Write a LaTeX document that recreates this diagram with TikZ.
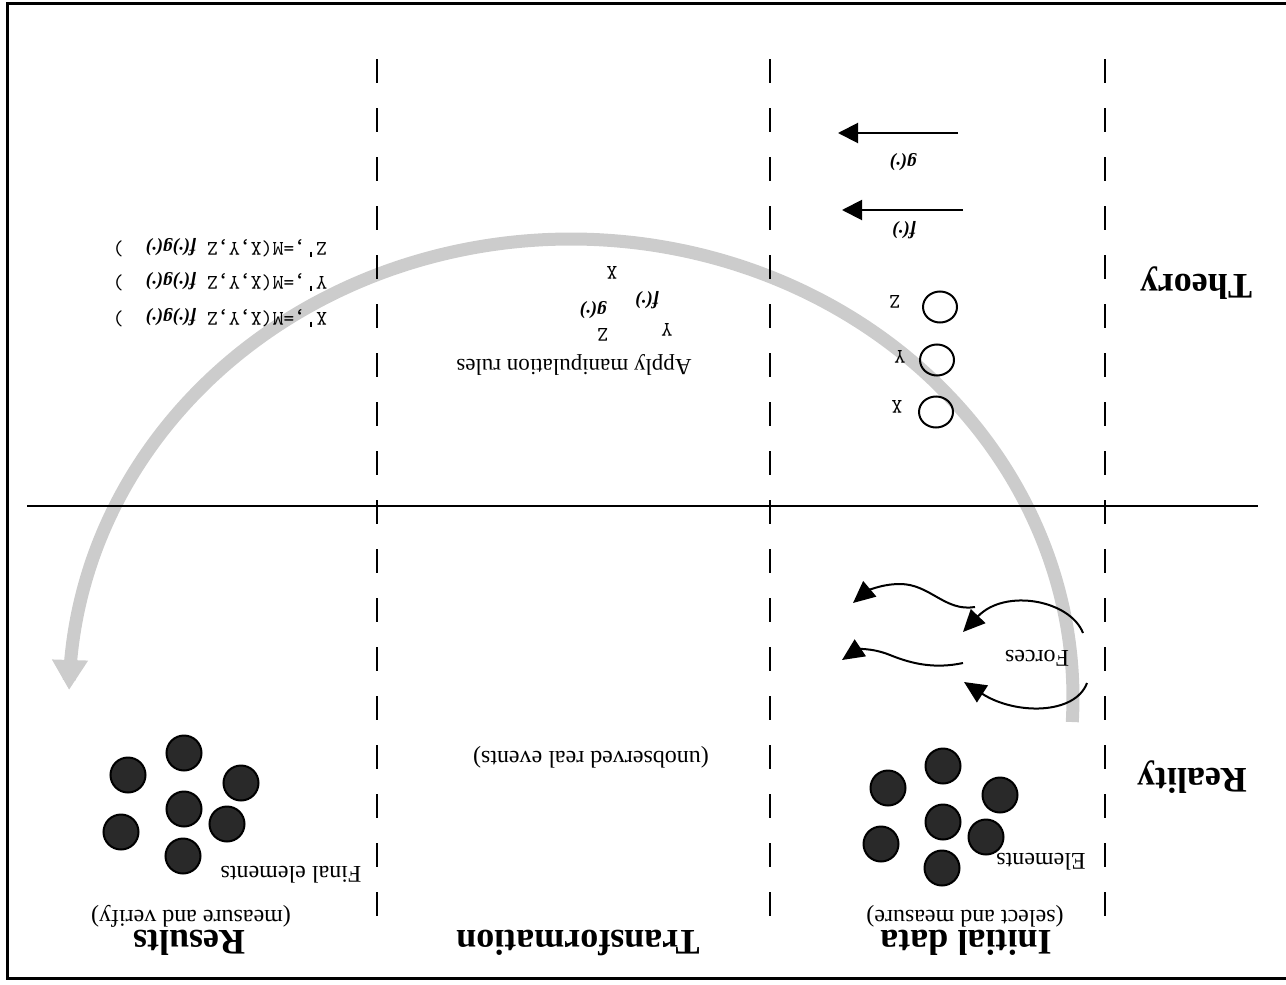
\documentclass[tikz,border=0pt]{standalone}
\usepackage{fontspec}
\setmainfont{Liberation Serif}
\font\eqmono="[lmmono10-regular]" at 10.4pt
\newcommand\apostick{\makebox[0.525em]{\rule[0.42em]{0.07em}{0.24em}}}
\usetikzlibrary{arrows.meta,shapes.geometric}
\begin{document}
\begin{tikzpicture}[x=0.5pt,y=-0.5pt,
  lbl/.style={rotate=180, inner sep=0pt, font=\fontsize{12}{14}\selectfont},
  apply/.style={rotate=180, inner sep=0pt, font=\fontsize{11.5}{14}\selectfont},
  headlbl/.style={rotate=180, inner sep=0pt, font=\fontsize{18}{21}\selectfont\bfseries},
  mono/.style={rotate=180, inner sep=0pt, font=\eqmono},
  fn/.style={rotate=180, inner sep=0pt, font=\fontsize{9.5}{11}\selectfont\bfseries\itshape},
  ball/.style={circle, draw=black, line width=1pt, fill=black!84, minimum size=17.5pt, inner sep=0pt},
  ring/.style={ellipse, draw=black, line width=1pt, minimum width=17pt, minimum height=15.5pt, inner sep=0pt},
  divider/.style={line width=1pt, dash pattern=on 12pt off 12.5pt},
  thinarrow/.style={line width=1pt, -{Triangle[length=10pt,width=10pt]}},
  forcearrow/.style={line width=1pt, -{Triangle[length=11pt,width=10pt]}},
  bigarc/.style={line width=6.5pt, color=black!20, -{Triangle[length=15pt,width=17pt]}}
]
\useasboundingbox (0,0) rectangle (1286,985);

% big gray arc
\draw[bigarc] plot[domain=-3:179, samples=90, smooth] ({571+502*cos(\x)},{698-459*sin(\x)});

% frame
\draw[line width=1.5pt] (7,3) rectangle (1292,978.5);

% horizontal separator
\coordinate (hl) at (27,506);
\coordinate (hr) at (1258,506);
\draw[line width=1pt] (hl) -- (hr);

% dashed dividers
\coordinate (d1t) at (377,59);  \coordinate (d1b) at (377,916);
\coordinate (d2t) at (770,59);  \coordinate (d2b) at (770,916);
\coordinate (d3t) at (1105,59); \coordinate (d3b) at (1105,916);
\draw[divider] (d1t) -- (d1b);
\draw[divider] (d2t) -- (d2b);
\draw[divider] (d3t) -- (d3b);

% row labels
\node[headlbl] (theory) at (1196,283) {Theory};
\node[headlbl] (reality) at (1192,777) {Reality};

% column labels
\node[headlbl] (initial) at (966,943) {Initial data};
\node[lbl] (initsub) at (965,916) {(select and measure)};
\node[headlbl] (transf) at (578,943) {Transformation};
\node[lbl] (unobs) at (591,757) {(unobserved real events)};
\node[headlbl] (results) at (189,943) {Results};
\node[lbl] (ressub) at (191,916) {(measure and verify)};

% initial elements
\node[ball] (a1) at (943,766) {};
\node[ball] (a2) at (888,788) {};
\node[ball] (a3) at (1000,795) {};
\node[ball] (a4) at (943,822) {};
\node[ball] (a5) at (986,837) {};
\node[ball] (a6) at (881,844) {};
\node[ball] (a7) at (942,868) {};
\node[lbl] (elem) at (1041,862) {Elements};

% final elements
\node[ball] (b1) at (184,753) {};
\node[ball] (b2) at (128,775) {};
\node[ball] (b3) at (241,783) {};
\node[ball] (b4) at (184,809) {};
\node[ball] (b5) at (227,824) {};
\node[ball] (b6) at (121,832) {};
\node[ball] (b7) at (183,856) {};
\node[lbl] (felem) at (291,875) {Final elements};

% forces
\node[lbl] (forces) at (1037,658) {Forces};
\coordinate (fa1) at (975,607); \coordinate (fa2) at (853,603);
\coordinate (fb1) at (1083,633); \coordinate (fb2) at (963,632);
\coordinate (fc1) at (963,663); \coordinate (fc2) at (842,660);
\coordinate (fd1) at (1087,683); \coordinate (fd2) at (964,682);
\draw[forcearrow] (fa1) .. controls (945,612) and (930,584) .. (900,584) .. controls (880,584) and (866,592) .. (fa2);
\draw[forcearrow] (fb1) .. controls (1070,600) and (1005,588) .. (fb2);
\draw[forcearrow] (fc1) .. controls (935,669) and (912,664) .. (890,655) .. controls (870,647) and (857,650) .. (fc2);
\draw[forcearrow] (fd1) .. controls (1075,715) and (1015,715) .. (fd2);

% theory variables
\node[ring] (cz) at (940,307) {};
\node[ring] (cy) at (937,360) {};
\node[ring] (cx) at (936,412) {};
\node[mono] (lz) at (895,302) {Z};
\node[mono] (ly) at (900,357) {Y};
\node[mono] (lx) at (897,407) {X};

% theory functions
\coordinate (g1) at (958,133); \coordinate (g2) at (838,133);
\coordinate (f1) at (963,210); \coordinate (f2) at (842,210);
\draw[thinarrow] (g1) -- (g2);
\draw[thinarrow] (f1) -- (f2);
\node[fn] (gl) at (903,162) {g(·)};
\node[fn] (fl) at (904,230) {f(·)};

% transformation
\node[apply] (applyrules) at (574,365) {Apply manipulation rules};
\node[mono] (mx) at (612,273) {X};
\node[fn] (mf) at (647,300) {f(·)};
\node[fn] (mg) at (593,310) {g(·)};
\node[mono] (my) at (667,330) {Y};
\node[mono] (mz) at (603,335) {Z};

% results equations
\node[rotate=180, inner sep=0pt] (eqx) at (220,318) {{\eqmono X\apostick,=M(X,Y,Z }{\fontsize{9.5}{11}\selectfont\bfseries\itshape f(·)g(·)}{\eqmono\ \ )}};
\node[rotate=180, inner sep=0pt] (eqy) at (220,282) {{\eqmono Y\apostick,=M(X,Y,Z }{\fontsize{9.5}{11}\selectfont\bfseries\itshape f(·)g(·)}{\eqmono\ \ )}};
\node[rotate=180, inner sep=0pt] (eqz) at (220,248) {{\eqmono Z\apostick,=M(X,Y,Z }{\fontsize{9.5}{11}\selectfont\bfseries\itshape f(·)g(·)}{\eqmono\ \ )}};
\end{tikzpicture}
\end{document}
